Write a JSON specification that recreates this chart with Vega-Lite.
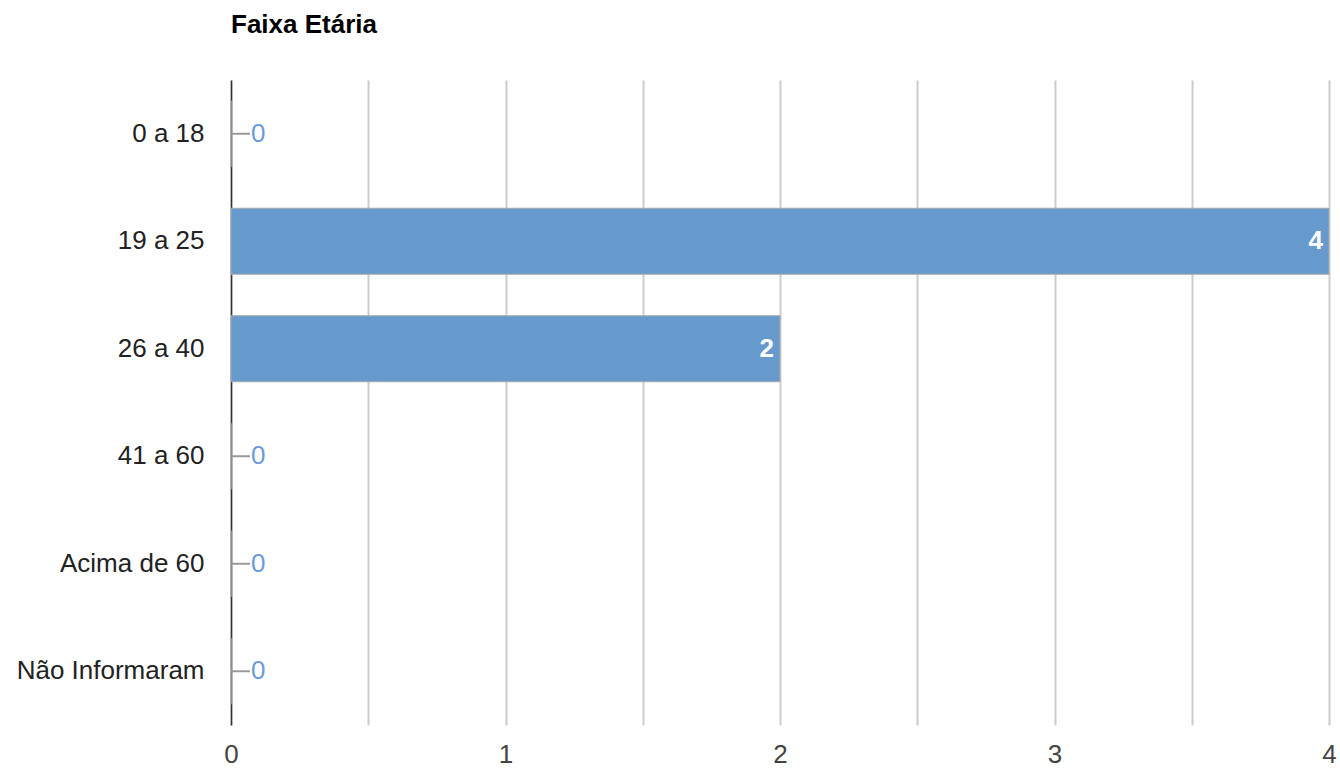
{
  "$schema": "https://vega.github.io/schema/vega-lite/v6.json",
  "width": 1098,
  "height": 645,
  "autosize": {"type": "none"},
  "padding": {"left": 231, "top": 80, "right": 11, "bottom": 43},
  "background": "#ffffff",
  "title": {
    "text": "Faixa Etária",
    "anchor": "start",
    "frame": "group",
    "baseline": "alphabetic",
    "offset": 21,
    "font": "Liberation Sans",
    "fontSize": 26,
    "fontWeight": "bold",
    "color": "#000000"
  },
  "config": {
    "view": {"stroke": null},
    "font": "Liberation Sans"
  },
  "data": {
    "values": [
      {"faixa": "0 a 18", "valor": 0},
      {"faixa": "19 a 25", "valor": 4},
      {"faixa": "26 a 40", "valor": 2},
      {"faixa": "41 a 60", "valor": 0},
      {"faixa": "Acima de 60", "valor": 0},
      {"faixa": "Não Informaram", "valor": 0}
    ]
  },
  "encoding": {
    "y": {
      "field": "faixa",
      "type": "nominal",
      "sort": null,
      "scale": {"paddingInner": 0.386, "paddingOuter": 0.193},
      "axis": {
        "title": null,
        "ticks": false,
        "domain": true,
        "domainColor": "#333333",
        "domainWidth": 1.5,
        "labelPadding": 27,
        "labelLimit": 300,
        "labelFontSize": 26,
        "labelColor": "#222222",
        "labelFont": "Liberation Sans"
      }
    },
    "x": {
      "field": "valor",
      "type": "quantitative",
      "scale": {"domain": [0, 4], "nice": false},
      "axis": {
        "title": null,
        "values": [0, 0.5, 1, 1.5, 2, 2.5, 3, 3.5, 4],
        "labelExpr": "datum.value % 1 == 0 ? format(datum.value, 'd') : ''",
        "labelFlush": false,
        "labelOverlap": false,
        "ticks": false,
        "domain": false,
        "grid": true,
        "gridColor": "#cccccc",
        "gridWidth": 2,
        "labelPadding": 16,
        "labelFontSize": 26,
        "labelColor": "#444444",
        "labelFont": "Liberation Sans"
      }
    }
  },
  "layer": [
    {
      "mark": {"type": "bar", "color": "#6699cc", "stroke": "#aaaaaa", "strokeWidth": 1}
    },
    {
      "transform": [{"filter": "datum.valor == 0"}],
      "mark": {"type": "rule", "color": "#999999", "strokeWidth": 2, "x2Offset": 19},
      "encoding": {"x2": {"field": "valor"}}
    },
    {
      "transform": [{"filter": "datum.valor == 0"}],
      "mark": {"type": "text", "align": "left", "dx": 20, "fontSize": 26, "color": "#6b9bd8", "font": "Liberation Sans"},
      "encoding": {"text": {"field": "valor", "type": "quantitative"}}
    },
    {
      "transform": [{"filter": "datum.valor > 0"}],
      "mark": {"type": "text", "align": "right", "dx": -6, "fontSize": 26, "fontWeight": "bold", "color": "#ffffff", "font": "Liberation Sans"},
      "encoding": {"text": {"field": "valor", "type": "quantitative"}}
    }
  ]
}
